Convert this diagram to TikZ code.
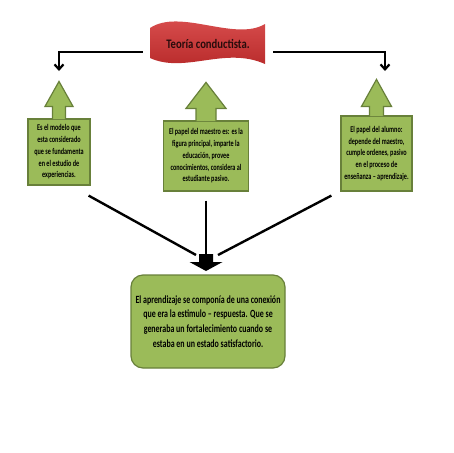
\documentclass[tikz,border=0pt]{standalone}
\usepackage{fontspec}
\setmainfont{Carlito}
\newfontfamily\cajafont{Carlito}[FakeStretch=0.72]
\newfontfamily\llamadafont{Carlito}[FakeStretch=0.70]
\newfontfamily\titulofont{Carlito}[FakeStretch=0.82]
\usepackage{tikz}
\usetikzlibrary{arrows.meta}

\definecolor{verdecaja}{RGB}{155,187,89}
\definecolor{verdeborde}{RGB}{104,128,58}
\definecolor{rojoclaro}{RGB}{222,84,84}
\definecolor{rojooscuro}{RGB}{180,38,38}
\definecolor{textotitulo}{RGB}{40,12,12}

% flecha de la llamada: nodo, medio tallo, media punta, base, punta
\newcommand{\flechacaja}[5]{%
  \filldraw[llamada] ([xshift=-#2pt,yshift=-0.8pt]#1.north)
    -- ([xshift=-#2pt,yshift=#4pt]#1.north)
    -- ([xshift=-#3pt,yshift=#4pt]#1.north)
    -- ([yshift=#5pt]#1.north)
    -- ([xshift=#3pt,yshift=#4pt]#1.north)
    -- ([xshift=#2pt,yshift=#4pt]#1.north)
    -- ([xshift=#2pt,yshift=-0.8pt]#1.north);}

\begin{document}
\begin{tikzpicture}[x=1pt,y=-1pt,>={Straight Barb[length=5pt,width=9pt]},
                    semithick]
\tikzstyle{caja}=[fill=verdecaja,draw=verdeborde,line width=1.2pt,align=center,inner sep=2pt,
                  font=\llamadafont\bfseries\fontsize{8.8}{11.7}\selectfont]
\tikzstyle{llamada}=[fill=verdecaja,draw=verdeborde,line width=1.2pt]
\tikzstyle{conector}=[draw=black,line width=2.2pt]
\tikzstyle{linea}=[draw=black,line width=2.4pt]
\tikzstyle{titulo}=[minimum width=130pt,minimum height=30pt,text=textotitulo,
                    font=\titulofont\bfseries\fontsize{13}{15}\selectfont]

\useasboundingbox (0,0) rectangle (453,453);

        % cinta roja
        \shade[top color=rojoclaro,bottom color=rojooscuro]
          (150,28) .. controls (180,8) and (235,42) .. (265,24)
          -- (265,64) .. controls (225,46) and (185,74) .. (150,58) -- cycle;
        \node[titulo]                                  (teoria)   at (208,44)     {Teoría conductista.};

        \coordinate (fizq) at (59,71);
        \coordinate (fder) at (385,71);
        \draw[conector,->] ([yshift=-8pt]teoria.west) -| (fizq);
        \draw[conector,->] ([yshift=-8pt]teoria.east) -| (fder);

        \node[caja,minimum width=62pt,minimum height=66pt]  (modelo)   at (59,152)    {Es el modelo que\\esta considerado\\que se fundamenta\\en el estudio de\\experiencias.};
        \node[caja,minimum width=85pt,minimum height=70pt]  (maestro)  at (206,156)   {El papel del maestro es: es la\\figura principal, imparte la\\educación, provee\\conocimientos, considera al\\estudiante pasivo.};
        \node[caja,minimum width=71pt,minimum height=75pt]  (alumno)   at (376.5,153.5) {El papel del alumno:\\depende del maestro,\\cumple ordenes, pasivo\\en el proceso de\\enseñanza – aprendizaje.};

        \flechacaja{modelo}{6.5}{14}{12}{37}
        \flechacaja{maestro}{10}{20}{12}{38}
        \flechacaja{alumno}{7}{15}{9}{36}

        \node[caja,rounded corners=12pt,minimum width=154pt,minimum height=93pt,
              font=\cajafont\bfseries\fontsize{11}{14.7}\selectfont]
                                                       (aprendizaje) at (208,321.5) {El aprendizaje se componía de una conexión\\que era la estimulo – respuesta. Que se\\generaba un fortalecimiento cuando se\\estaba en un estado satisfactorio.};

        \coordinate (junta) at (206,255);
        \fill ([xshift=-7pt,yshift=1pt]junta) -- ([xshift=-7pt,yshift=-7pt]junta)
          -- ([xshift=-16.5pt,yshift=-7pt]junta) -- ([yshift=-16pt]junta)
          -- ([xshift=16.5pt,yshift=-7pt]junta) -- ([xshift=7pt,yshift=-7pt]junta)
          -- ([xshift=7pt,yshift=1pt]junta) -- cycle;

        \path[linea]
        ([xshift=-2pt,yshift=-10pt]modelo.south east)   edge  ([xshift=-10pt]junta)
        ([yshift=-9pt]maestro.south)                    edge  ([yshift=-3pt]junta)
        ([xshift=-9pt,yshift=-4pt]alumno.south west)    edge  ([xshift=12pt]junta)
        ; %end path
\end{tikzpicture}
\end{document}
